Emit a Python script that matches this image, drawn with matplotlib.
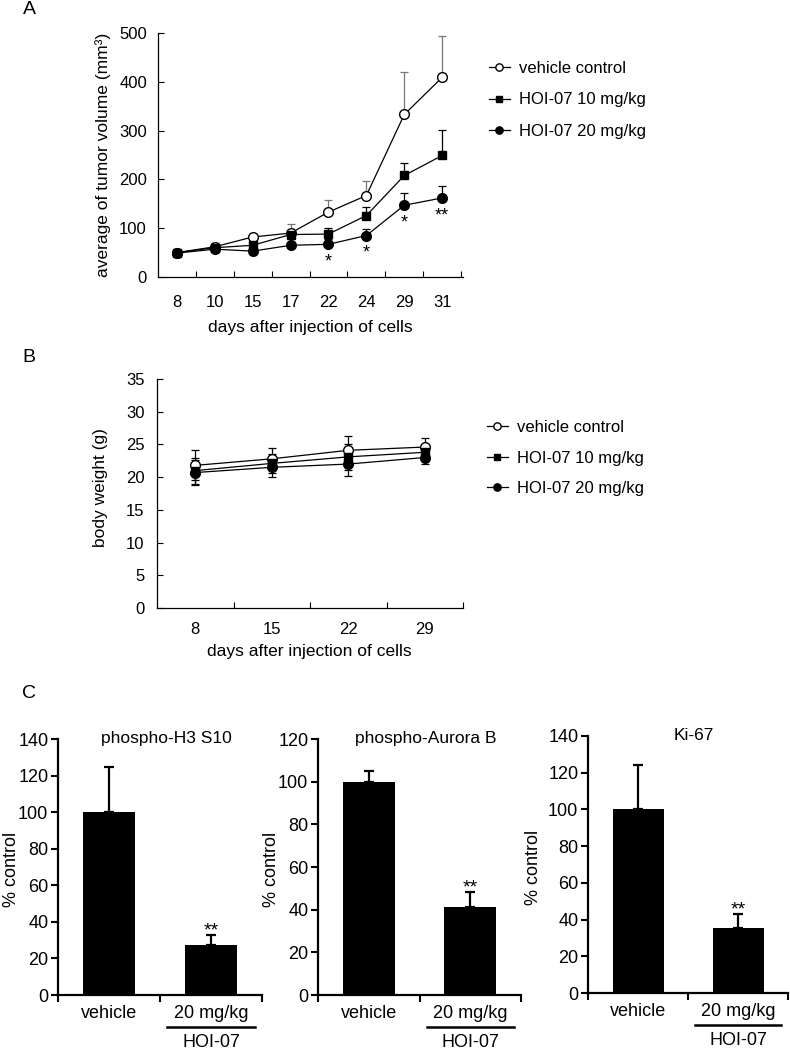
import numpy as np
import matplotlib
matplotlib.use("Agg")
import matplotlib.pyplot as plt
import matplotlib.transforms as mtransforms

plt.rcParams['font.family'] = ['Liberation Sans', 'DejaVu Sans']

# ---- panel A : tumor volume ----
days_a = ['8', '10', '15', '17', '22', '24', '29', '31']
veh_a = [50, 62, 82, 90, 133, 167, 333, 409]
veh_a_err = [6, 8, 5, 18, 25, 30, 88, 85]
hoi10_a = [50, 60, 65, 87, 88, 126, 208, 249]
hoi10_a_err = [5, 5, 6, 9, 12, 17, 25, 52]
hoi20_a = [49, 57, 53, 65, 67, 85, 147, 162]
hoi20_a_err = [5, 4, 4, 5, 10, 14, 25, 25]
sig_a = ['', '', '', '', '*', '*', '*', '**']

# ---- panel B : body weight ----
days_b = ['8', '15', '22', '29']
veh_b = [21.8, 22.8, 24.1, 24.6]
veh_b_err = [2.3, 1.7, 2.2, 1.4]
hoi10_b = [21.0, 22.1, 23.1, 23.8]
hoi10_b_err = [2.0, 1.5, 2.0, 1.0]
hoi20_b = [20.7, 21.5, 22.0, 23.0]
hoi20_b_err = [1.9, 1.5, 1.8, 1.0]

labels = ['vehicle control', 'HOI-07 10 mg/kg', 'HOI-07 20 mg/kg']

# ---- panel C : IHC quantification ----
groups_c = ['vehicle', '20 mg/kg']
titles_c = ['phospho-H3 S10', 'phospho-Aurora B', 'Ki-67']
vals_c = [[100, 27.3], [100, 41.4], [100, 35.5]]
errs_c = [[24.5, 5.5], [5.0, 6.7], [24.0, 7.4]]
ymax_c = [140, 120, 140]

W, H = 790, 1050
fig = plt.figure(figsize=(W / 100, H / 100), dpi=100)

def box(x0, x1, y0, y1):
    # pixel box -> figure fraction
    return [x0 / W, 1 - y1 / H, (x1 - x0) / W, (y1 - y0) / H]

def line_panel(ax, days, series, errs, ecolors, both, xmax):
    x = np.arange(len(days))
    styles = [dict(marker='o', mfc='white', mec='black', ms=7),
              dict(marker='s', mfc='black', mec='black', ms=6),
              dict(marker='o', mfc='black', mec='black', ms=7)]
    handles = []
    for y, e, st, ec in zip(series, errs, styles, ecolors):
        yerr = e if both else [np.zeros(len(e)), e]
        ax.errorbar(x, y, yerr=yerr, fmt='none', ecolor=ec, elinewidth=0.9,
                    capsize=3, capthick=0.9, zorder=2)
        h, = ax.plot(x, y, color='black', lw=0.9, zorder=3, **st)
        handles.append(h)
    ax.set_xlim(-0.5, xmax)
    ax.set_xticks(x)
    ax.set_xticklabels(days)
    ax.set_xticks(np.arange(len(days)) + 0.5, minor=True)
    ax.tick_params(axis='x', which='major', length=0, labelsize=12)
    ax.tick_params(axis='x', which='minor', direction='in', length=4, width=0.8)
    ax.tick_params(axis='y', direction='in', length=4, width=0.8, labelsize=12)
    for s in ['top', 'right']:
        ax.spines[s].set_visible(False)
    for s in ['left', 'bottom']:
        ax.spines[s].set_linewidth(0.9)
    return handles

# A
axA = fig.add_axes(box(158, 463, 33, 277))
hA = line_panel(axA, days_a, [veh_a, hoi10_a, hoi20_a],
                [veh_a_err, hoi10_a_err, hoi20_a_err],
                ['#777777', 'black', 'black'], False, 7.55)
axA.set_ylim(0, 500)
axA.set_yticks(np.arange(0, 501, 100))
axA.tick_params(axis='x', which='major', pad=13)
axA.tick_params(axis='y', pad=8)
for i, s in enumerate(sig_a):
    if s:
        axA.annotate(s, (i, hoi20_a[i]), xytext=(0, -16), textcoords='offset points',
                     ha='center', va='baseline', fontsize=13)
axA.set_xlabel('days after injection of cells', fontsize=12.5)
axA.xaxis.set_label_coords(0.5, -0.209)
axA.xaxis.label.set_va('center')
axA.set_ylabel('average of tumor volume (mm³)', fontsize=12.5)
axA.yaxis.set_label_coords(-0.18, 0.5)
axA.yaxis.label.set_va('center')
axA.legend(hA, labels, loc='upper left', bbox_to_anchor=(489 / W, 1 - 61 / H),
           bbox_transform=fig.transFigure, frameon=False, fontsize=12,
           handlelength=1.25, handletextpad=0.55, labelspacing=0.98,
           borderpad=0, borderaxespad=0, markerscale=0.75)

# B
axB = fig.add_axes(box(157, 463, 379, 608))
hB = line_panel(axB, days_b, [veh_b, hoi10_b, hoi20_b],
                [veh_b_err, hoi10_b_err, hoi20_b_err],
                ['black', 'black', 'black'], True, 3.5)
axB.set_ylim(0, 35)
axB.set_yticks(np.arange(0, 36, 5))
axB.tick_params(axis='x', which='major', pad=10)
axB.tick_params(axis='y', pad=9)
axB.set_xlabel('days after injection of cells', fontsize=12.5)
axB.xaxis.set_label_coords(0.497, -0.192)
axB.xaxis.label.set_va('center')
axB.set_ylabel('body weight (g)', fontsize=12.5)
axB.yaxis.set_label_coords(-0.186, 0.528)
axB.yaxis.label.set_va('center')
axB.legend(hB, labels, loc='upper left', bbox_to_anchor=(487 / W, 1 - 420 / H),
           bbox_transform=fig.transFigure, frameon=False, fontsize=12,
           handlelength=1.25, handletextpad=0.55, labelspacing=0.93,
           borderpad=0, borderaxespad=0, markerscale=0.75)

# C
c_boxes = [(58, 262, 739, 995), (318, 521, 739, 995), (588, 788, 736, 993)]
c_ylab_x = [-0.23, -0.227, -0.275]
for k in range(3):
    ax = fig.add_axes(box(*c_boxes[k]))
    x = np.arange(len(groups_c))
    ax.bar(x, vals_c[k], width=0.51, color='black', zorder=2)
    ax.errorbar(x, vals_c[k], yerr=[[0, 0], errs_c[k]], fmt='none', ecolor='black',
                elinewidth=1.6, capsize=3.5, capthick=1.6, zorder=1)
    ax.set_xlim(-0.5, 1.5)
    ax.set_ylim(0, ymax_c[k])
    ax.set_yticks(np.arange(0, ymax_c[k] + 1, 20))
    ax.set_xticks(x)
    ax.set_xticklabels(groups_c)
    ax.set_xticks([-0.5, 0.5, 1.5], minor=True)
    ax.tick_params(axis='x', which='major', length=0, pad=7, labelsize=13)
    ax.tick_params(axis='x', which='minor', direction='out', length=5, width=1.5)
    ax.tick_params(axis='y', direction='out', length=5, width=1.5, pad=2, labelsize=13)
    for s in ['top', 'right']:
        ax.spines[s].set_visible(False)
    for s in ['left', 'bottom']:
        ax.spines[s].set_linewidth(1.6)
    ax.text(0.53, 1.0, titles_c[k], transform=ax.transAxes, ha='center', va='center',
            fontsize=12.5)
    ax.annotate('**', (1, vals_c[k][1] + errs_c[k][1]), xytext=(0, 0),
                textcoords='offset points', ha='center', va='baseline', fontsize=14)
    ax.set_ylabel('% control', fontsize=13)
    ax.yaxis.set_label_coords(c_ylab_x[k], 0.49)
    ax.yaxis.label.set_va('center')
    tr = mtransforms.blended_transform_factory(ax.transData, ax.transAxes)
    ax.plot([0.57, 1.43], [-0.125, -0.125], color='black', lw=1.8, transform=tr,
            clip_on=False)
    ax.text(1, -0.184, 'HOI-07', transform=tr, ha='center', va='center', fontsize=13)

fig.text(29 / W, 1 - 9 / H, 'A', ha='center', va='center', fontsize=14)
fig.text(29 / W, 1 - 357 / H, 'B', ha='center', va='center', fontsize=14)
fig.text(29 / W, 1 - 693 / H, 'C', ha='center', va='center', fontsize=14)

fig.savefig('out.png', dpi=100)
